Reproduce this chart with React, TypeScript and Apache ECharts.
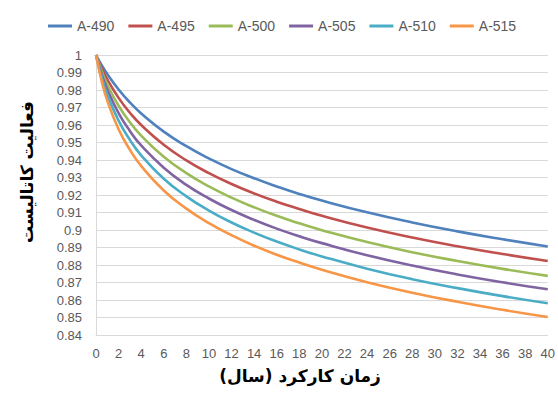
import React, { useEffect, useRef } from "react";
import * as echarts from "echarts";

// Operating time (years)
const years = [0, 0.5, 1, 2, 3, 4, 6, 8, 10, 12, 14, 16, 18, 20, 24, 28, 32, 36, 40];

// Relative catalyst activity for each catalyst grade
const a490 = [1, 0.9942, 0.9891, 0.9803, 0.9729, 0.9666, 0.9562, 0.9479, 0.9409, 0.9348, 0.9296, 0.9249, 0.9206, 0.9168, 0.9101, 0.9043, 0.8992, 0.8947, 0.8906];
const a495 = [1, 0.9925, 0.986, 0.9755, 0.967, 0.96, 0.9487, 0.9398, 0.9325, 0.9263, 0.9209, 0.9162, 0.912, 0.9081, 0.9014, 0.8957, 0.8907, 0.8863, 0.8823];
const a500 = [1, 0.9908, 0.9831, 0.971, 0.9616, 0.9539, 0.9418, 0.9325, 0.9249, 0.9185, 0.913, 0.9081, 0.9038, 0.8999, 0.8931, 0.8873, 0.8823, 0.8778, 0.8738];
const a505 = [1, 0.989, 0.9803, 0.9668, 0.9566, 0.9483, 0.9356, 0.9258, 0.918, 0.9114, 0.9058, 0.9008, 0.8964, 0.8925, 0.8856, 0.8797, 0.8746, 0.8701, 0.8661];
const a510 = [1, 0.9873, 0.9774, 0.9625, 0.9515, 0.9427, 0.9293, 0.9192, 0.9111, 0.9043, 0.8985, 0.8934, 0.8889, 0.8849, 0.8779, 0.8719, 0.8668, 0.8622, 0.8581];
const a515 = [1, 0.9851, 0.9739, 0.9576, 0.9459, 0.9366, 0.9226, 0.9122, 0.9039, 0.897, 0.891, 0.8859, 0.8814, 0.8773, 0.8702, 0.8642, 0.859, 0.8544, 0.8503];

const seriesNames = ["A-490", "A-495", "A-500", "A-505", "A-510", "A-515"];
const seriesValues = [a490, a495, a500, a505, a510, a515];
const colors = ["#4F81BD", "#C0504D", "#9BBB59", "#8064A2", "#4BACC6", "#F79646"];

const xTitle = "زمان کارکرد (سال)";
const yTitle = "فعالیت کاتالیست";

export default function App() {
  const ref = useRef<HTMLDivElement>(null);

  useEffect(() => {
    if (!ref.current) return;
    const chart = echarts.init(ref.current, null, { renderer: "svg" });
    const labelFont = "'Liberation Sans', Arial, sans-serif";

    chart.setOption({
      animation: false,
      color: colors,
      textStyle: { fontFamily: labelFont },
      legend: {
        top: 14,
        left: 43,
        icon: "rect",
        itemWidth: 24,
        itemHeight: 3,
        itemGap: 14,
        textStyle: { fontSize: 14, color: "#595959", fontFamily: labelFont },
        data: seriesNames,
      },
      grid: { left: 96, right: 10, top: 55, bottom: 64 },
      xAxis: {
        type: "value",
        min: 0,
        max: 40,
        interval: 2,
        axisLine: { show: true, lineStyle: { color: "#d9d9d9", width: 1 } },
        axisTick: { show: false },
        splitLine: { show: false },
        axisLabel: { fontSize: 13, color: "#595959", margin: 12 },
      },
      yAxis: {
        type: "value",
        min: 0.84,
        max: 1,
        interval: 0.01,
        axisLine: { show: true, lineStyle: { color: "#d9d9d9", width: 1 } },
        axisTick: { show: false },
        splitLine: { show: true, lineStyle: { color: "#d9d9d9", width: 1 } },
        axisLabel: { fontSize: 13, color: "#595959", margin: 14 },
      },
      series: seriesNames.map((name, i) => ({
        name,
        type: "line",
        symbol: "none",
        smooth: true,
        lineStyle: { width: 2.6, color: colors[i] },
        itemStyle: { color: colors[i] },
        data: years.map((t, j) => [t, seriesValues[i][j]]),
      })),
      graphic: [
        {
          type: "text",
          x: 300,
          y: 376,
          style: {
            text: xTitle,
            fontSize: 17,
            fontWeight: "bold",
            fontFamily: "'DejaVu Sans', sans-serif",
            fill: "#000",
            align: "center",
            verticalAlign: "middle",
          },
        },
        {
          type: "text",
          x: 27,
          y: 172,
          rotation: Math.PI / 2,
          style: {
            text: yTitle,
            fontSize: 17,
            fontWeight: "bold",
            fontFamily: "'DejaVu Sans', sans-serif",
            fill: "#000",
            align: "center",
            verticalAlign: "middle",
          },
        },
      ],
    });

    return () => chart.dispose();
  }, []);

  return (
    <div
      ref={ref}
      style={{ position: "absolute", left: 0, top: 0, width: 558, height: 399 }}
    />
  );
}
